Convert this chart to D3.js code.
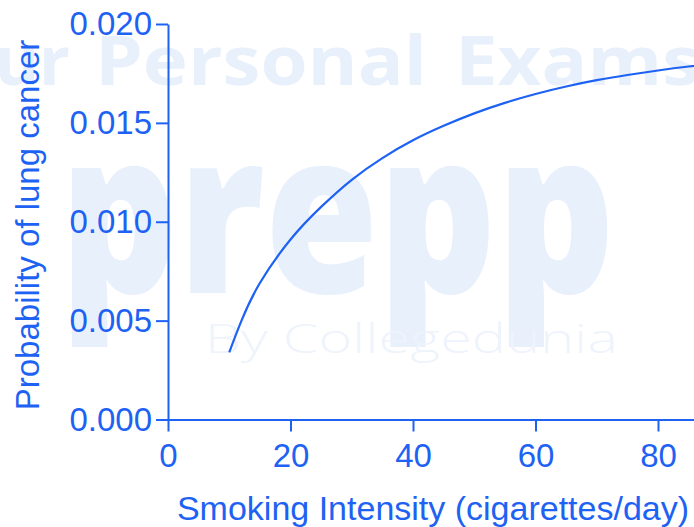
<!DOCTYPE html>
<html lang="en">
<head>
    <meta charset="UTF-8" />
    <title>Probability of lung cancer vs smoking intensity</title>
    <style>
        body, html {
            margin: 0;
            padding: 0;
            overflow: hidden;
            background: #fff;
        }
        svg {
            display: block;
        }
        .axis text {
            font-family: "Liberation Sans", Arial, sans-serif;
            font-size: 33px;
            fill: #1e62f4;
        }
        .axis path, .axis line {
            stroke: #1e62f4;
            stroke-width: 2px;
        }
        .title {
            font-family: "Liberation Sans", Arial, sans-serif;
            font-size: 33px;
            fill: #1e62f4;
        }
        .mark {
            fill: #e8f0fc;
            font-family: "Open Sans", sans-serif;
        }
    </style>
</head>
<body>
<svg></svg>

<script src="https://d3js.org/d3.v7.min.js"></script>
<script>
    const width = 694;
    const height = 527;

    // data
    const intensity = [10, 12, 15, 20, 25, 30, 35, 40, 45, 50, 55, 60, 65, 70, 75, 80, 85, 90];
    const probability = [0.0034, 0.0050, 0.0069, 0.0091, 0.01075, 0.01212, 0.01322, 0.01412, 0.01485,
        0.01548, 0.01601, 0.01646, 0.01684, 0.01716, 0.01742, 0.01765, 0.01785, 0.01802];

    const xTicks = [0, 20, 40, 60, 80];
    const yTicks = [0, 0.005, 0.010, 0.015, 0.020];

    const xLabel = "Smoking Intensity (cigarettes/day)";
    const yLabel = "Probability of lung cancer";

    const svg = d3.select("svg")
        .attr("width", width)
        .attr("height", height);

    // faint watermark behind the chart
    const wm = svg.append("g");
    wm.append("text").attr("class", "mark")
        .attr("x", 70).attr("y", 85)
        .attr("text-anchor", "end")
        .style("font-weight", 700)
        .style("font-size", "68px")
        .text("Your");
    wm.append("text").attr("class", "mark")
        .attr("x", 95).attr("y", 85)
        .attr("textLength", 332)
        .attr("lengthAdjust", "spacingAndGlyphs")
        .style("font-weight", 700)
        .style("font-size", "68px")
        .text("Personal");
    wm.append("text").attr("class", "mark")
        .attr("x", 455).attr("y", 85)
        .attr("textLength", 245)
        .attr("lengthAdjust", "spacingAndGlyphs")
        .style("font-weight", 700)
        .style("font-size", "68px")
        .text("Exams");
    wm.append("text").attr("class", "mark")
        .attr("x", 60).attr("y", 293)
        .attr("textLength", 555)
        .attr("lengthAdjust", "spacingAndGlyphs")
        .style("font-weight", 800)
        .style("font-size", "225px")
        .text("prepp");
    wm.append("text").attr("class", "mark")
        .attr("x", 205).attr("y", 353)
        .attr("textLength", 413)
        .attr("lengthAdjust", "spacingAndGlyphs")
        .style("fill", "#eef3fc")
        .style("font-weight", 300)
        .style("font-size", "40px")
        .text("By Collegedunia");

    // x axis runs on past the right edge of the picture
    const x = d3.scaleLinear().domain([0, 100]).range([168, 780.5]);
    const y = d3.scaleLinear().domain([0, 0.02]).range([419.5, 24]);

    svg.append("g")
        .attr("class", "axis")
        .attr("transform", `translate(0,${y(0)})`)
        .call(d3.axisBottom(x).tickValues(xTicks).tickSize(12).tickPadding(12).tickSizeOuter(0));

    svg.append("g")
        .attr("class", "axis")
        .attr("transform", `translate(${x(0)},0)`)
        .call(d3.axisLeft(y).tickValues(yTicks).tickFormat(d3.format(".3f")).tickSize(12).tickPadding(4).tickSizeOuter(0));

    const line = d3.line()
        .x((d, i) => x(intensity[i]))
        .y(d => y(d))
        .curve(d3.curveNatural);

    svg.append("path")
        .datum(probability)
        .attr("fill", "none")
        .attr("stroke", "#1e62f4")
        .attr("stroke-width", 2.2)
        .attr("d", line);

    svg.append("text")
        .attr("class", "title")
        .attr("x", 433)
        .attr("y", 520)
        .attr("text-anchor", "middle")
        .style("font-size", "34px")
        .text(xLabel);

    svg.append("text")
        .attr("class", "title")
        .attr("transform", `translate(39,225) rotate(-90)`)
        .attr("text-anchor", "middle")
        .text(yLabel);
</script>
</body>
</html>
